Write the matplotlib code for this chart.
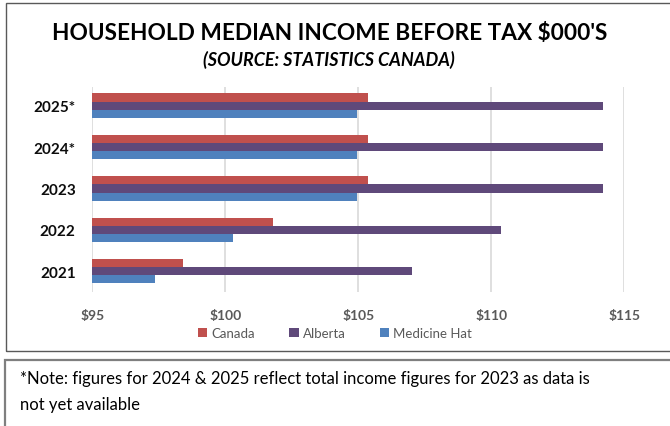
import matplotlib
matplotlib.use("Agg")
import matplotlib.pyplot as plt
import matplotlib.patches as patches
import numpy as np

years = ["2021", "2022", "2023", "2024*", "2025*"]
canada = [98.4, 101.8, 105.35, 105.35, 105.35]
alberta = [107.0, 110.35, 114.2, 114.2, 114.2]
medicine_hat = [97.35, 100.3, 104.95, 104.95, 104.95]
x_ticks = [95, 100, 105, 110, 115]
x_labels = ["$95", "$100", "$105", "$110", "$115"]

series = [
    ("Canada", canada, "#C0504D"),
    ("Alberta", alberta, "#5F497A"),
    ("Medicine Hat", medicine_hat, "#4F81BD"),
]

plt.rcParams['font.family'] = ['Lato', 'DejaVu Sans']

W, H = 670, 427
fig = plt.figure(figsize=(W / 100, H / 100), dpi=100)
fig.patch.set_facecolor('white')


def px(x0, y0, x1, y1):
    # pixel box (top-left origin) -> figure fraction rect
    return [x0 / W, 1 - y1 / H, (x1 - x0) / W, (y1 - y0) / H]


# frames around the chart and the note
fig.patches.append(patches.Rectangle((5.5 / W, 1 - 352 / H), 1, (352 - 4) / H,
                                     transform=fig.transFigure, fill=False,
                                     edgecolor='#595959', lw=1.0))
fig.patches.append(patches.Rectangle((4.5 / W, 1 - 430 / H), 1, (430 - 361) / H,
                                     transform=fig.transFigure, fill=False,
                                     edgecolor='#7f7f7f', lw=1.6))

ax = fig.add_axes(px(92.3, 88, 624.3, 293))

y = np.arange(len(years))
bar_h = 0.196
offsets = [bar_h, 0, -bar_h]
for (name, vals, color), off in zip(series, offsets):
    ax.barh(y + off, np.array(vals) - 95, left=95, height=bar_h,
            color=color, label=name, zorder=3)

ax.set_xlim(95, 115)
ax.set_ylim(-0.5, 4.45)
ax.set_xticks(x_ticks)
ax.set_xticklabels(x_labels, fontsize=10, fontweight='bold', color='#595959')
ax.set_yticks(y)
ax.set_yticklabels(years, fontsize=11, fontweight='bold', color='#0d0d0d')
ax.tick_params(axis='both', length=0)
ax.tick_params(axis='x', pad=12)
ax.tick_params(axis='y', pad=12)
ax.grid(axis='x', color='#d9d9d9', lw=1.2, zorder=0)
for s in ax.spines.values():
    s.set_visible(False)

fig.text(330 / W, 1 - 34 / H, "HOUSEHOLD MEDIAN INCOME BEFORE TAX $000'S",
         ha='center', va='center', fontsize=16.3, fontweight='bold', color='black')
fig.text(329 / W, 1 - 60 / H, "(SOURCE: STATISTICS CANADA)",
         ha='center', va='center', fontsize=13, fontweight='bold',
         style='italic', color='black')

handles, labels = ax.get_legend_handles_labels()
leg = fig.legend(handles, labels, loc='center', bbox_to_anchor=(335 / W, 1 - 334 / H),
                 ncol=3, frameon=False, fontsize=9.5, handlelength=0.7,
                 handleheight=0.7, handletextpad=0.3, columnspacing=2.6)
for t in leg.get_texts():
    t.set_color('#595959')

fig.text(20 / W, 1 - 379 / H,
         "*Note: figures for 2024 & 2025 reflect total income figures for 2023 as data is",
         ha='left', va='center', fontsize=12, color='black')
fig.text(20 / W, 1 - 405 / H, "not yet available",
         ha='left', va='center', fontsize=12, color='black')

fig.savefig("out.png", dpi=100, facecolor='white')
